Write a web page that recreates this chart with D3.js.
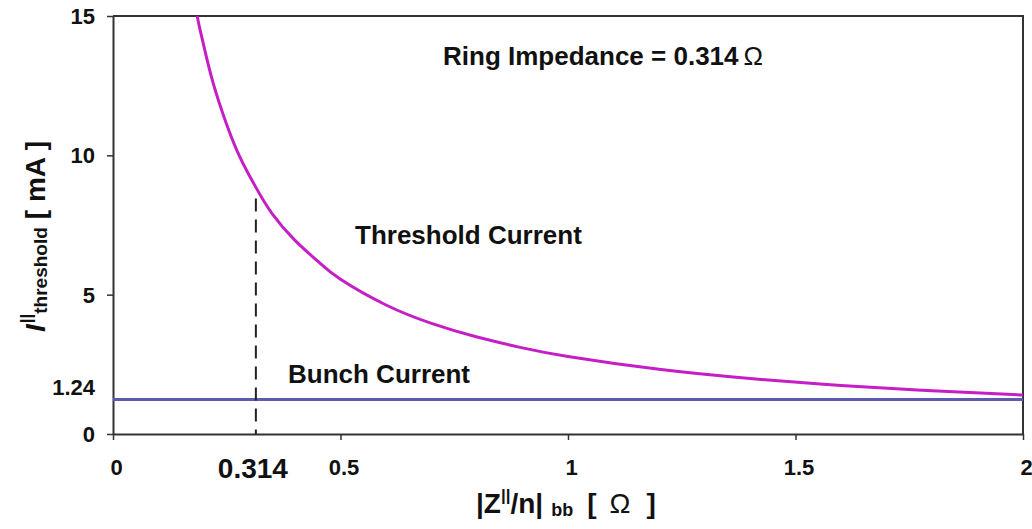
<!DOCTYPE html>
<html>
<head>
<meta charset="utf-8">
<script src="https://cdn.jsdelivr.net/npm/d3@7"></script>
<style>
	body { margin: 0; background: #fff; }
	text { font-family: "Liberation Sans", Arial, sans-serif; font-weight: bold; fill: #111; }
</style>
</head>
<body>
<div id="chart"></div>
<script>
// threshold current: impedance |Z/n| [ohm] -> current [mA]
var impedance = [0.185, 0.19, 0.2, 0.22, 0.25, 0.28, 0.314, 0.35, 0.4, 0.45, 0.5, 0.6, 0.7, 0.8, 0.9, 1.0, 1.2, 1.4, 1.6, 1.8, 2.0];
var threshold = [15.0, 14.6, 13.9, 12.6, 11.1, 9.9, 8.85, 7.9, 6.95, 6.2, 5.55, 4.63, 3.97, 3.48, 3.09, 2.78, 2.32, 1.99, 1.74, 1.55, 1.40];

var bunchCurrent = 1.24;
var ringImpedance = 0.314;
var dashTop = 8.45;

var xTicks = [0, 0.5, 1, 1.5, 2];
var xTickLabels = ['0', '0.5', '1', '1.5', '2'];
var yTicks = [0, 5, 10, 15];
var yTickLabels = ['0', '5', '10', '15'];

var margin = {top: 16, right: 9, bottom: 95, left: 113};
var width = 1032 - margin.left - margin.right,
	height = 529 - margin.top - margin.bottom;

var x = d3.scaleLinear().domain([0, 2]).range([0, width]);
var y = d3.scaleLinear().domain([0, 15]).range([height, 0]);

var svg = d3.select('#chart').append('svg')
	.attr('width', 1032)
	.attr('height', 529);

var g = svg.append('g')
	.attr('transform', 'translate(' + margin.left + ',' + margin.top + ')');

g.append('clipPath').attr('id', 'plot')
	.append('rect').attr('width', width).attr('height', height);

// frame top and right
g.append('path')
	.attr('d', 'M0,0H' + width + 'V' + height)
	.attr('fill', 'none')
	.attr('stroke', '#333')
	.attr('stroke-width', 2);

// axes
var xAxis = g.append('g')
	.attr('transform', 'translate(0,' + height + ')')
	.call(d3.axisBottom(x).tickValues(xTicks).tickSize(6).tickSizeOuter(0)
		.tickFormat(function (d, i) { return xTickLabels[i]; }));

var yAxis = g.append('g')
	.call(d3.axisLeft(y).tickValues(yTicks).tickSize(6).tickSizeOuter(0)
		.tickFormat(function (d, i) { return yTickLabels[i]; }));

[xAxis, yAxis].forEach(function (ax) {
	ax.attr('font-size', null).attr('font-family', null);
	ax.select('.domain').attr('stroke', '#333').attr('stroke-width', 2);
	ax.selectAll('.tick line').attr('stroke', '#333').attr('stroke-width', 1.5);
	ax.selectAll('.tick text')
		.style('font-size', '22px')
		.attr('fill', '#111');
});
xAxis.selectAll('.tick text').attr('x', 3).attr('y', 25).attr('dy', '0.71em');
yAxis.selectAll('.tick text').attr('x', -18).attr('dy', '0.34em');

// bunch current line
g.append('line')
	.attr('x1', 0).attr('x2', width)
	.attr('y1', y(bunchCurrent)).attr('y2', y(bunchCurrent))
	.attr('stroke', '#5b5bb0')
	.attr('stroke-width', 3);

g.append('text')
	.attr('x', -18).attr('y', y(bunchCurrent) - 12)
	.attr('dy', '0.34em')
	.attr('text-anchor', 'end')
	.style('font-size', '22px')
	.text('1.24');

// ring impedance marker
g.append('line')
	.attr('x1', x(ringImpedance)).attr('x2', x(ringImpedance))
	.attr('y1', y(dashTop)).attr('y2', y(0))
	.attr('stroke', '#222')
	.attr('stroke-width', 2)
	.attr('stroke-dasharray', '13,8');

g.append('text')
	.attr('x', x(ringImpedance) - 3).attr('y', height + 44)
	.attr('text-anchor', 'middle')
	.style('font-size', '28px')
	.text('0.314');

// threshold curve
var line = d3.line()
	.curve(d3.curveNatural)
	.x(function (d, i) { return x(impedance[i]); })
	.y(function (d) { return y(d); });

g.append('path')
	.attr('clip-path', 'url(#plot)')
	.attr('d', line(threshold))
	.attr('fill', 'none')
	.attr('stroke', '#c51ec5')
	.attr('stroke-width', 3);

// annotations
g.append('text')
	.attr('x', 330).attr('y', 49)
	.style('font-size', '26px')
	.text('Ring Impedance = 0.314')
	.append('tspan')
		.style('font-weight', 'normal')
		.attr('dx', 5)
		.text('\u03A9');

g.append('text')
	.attr('x', 242).attr('y', 228)
	.style('font-size', '26px')
	.text('Threshold Current');

g.append('text')
	.attr('x', 175).attr('y', 367)
	.style('font-size', '26px')
	.text('Bunch Current');

// axis titles
var yTitle = svg.append('text')
	.attr('transform', 'translate(45,332) rotate(-90)')
	.style('font-size', '28px');
yTitle.append('tspan').style('font-style', 'italic').text('I');
yTitle.append('tspan').style('font-size', '17px').attr('dy', -13).attr('dx', 1).text('||');
yTitle.append('tspan').style('font-size', '19px').attr('dy', 15).text('threshold');
yTitle.append('tspan').attr('dy', -2).attr('dx', 8).text('[ mA ]');

var xTitle = svg.append('text')
	.attr('x', 476).attr('y', 513)
	.style('font-size', '28px');
xTitle.append('tspan').text('|Z');
xTitle.append('tspan').style('font-size', '17px').attr('dy', -12).text('||');
xTitle.append('tspan').attr('dy', 12).text('/n|');
xTitle.append('tspan').style('font-size', '18px').attr('dx', 8).attr('dy', 3).text('bb');
xTitle.append('tspan').attr('dx', 14).attr('dy', -3).text('[');
xTitle.append('tspan').style('font-weight', 'normal').attr('dx', 13).text('\u03A9');
xTitle.append('tspan').attr('dx', 16).text(']');
</script>
</body>
</html>
